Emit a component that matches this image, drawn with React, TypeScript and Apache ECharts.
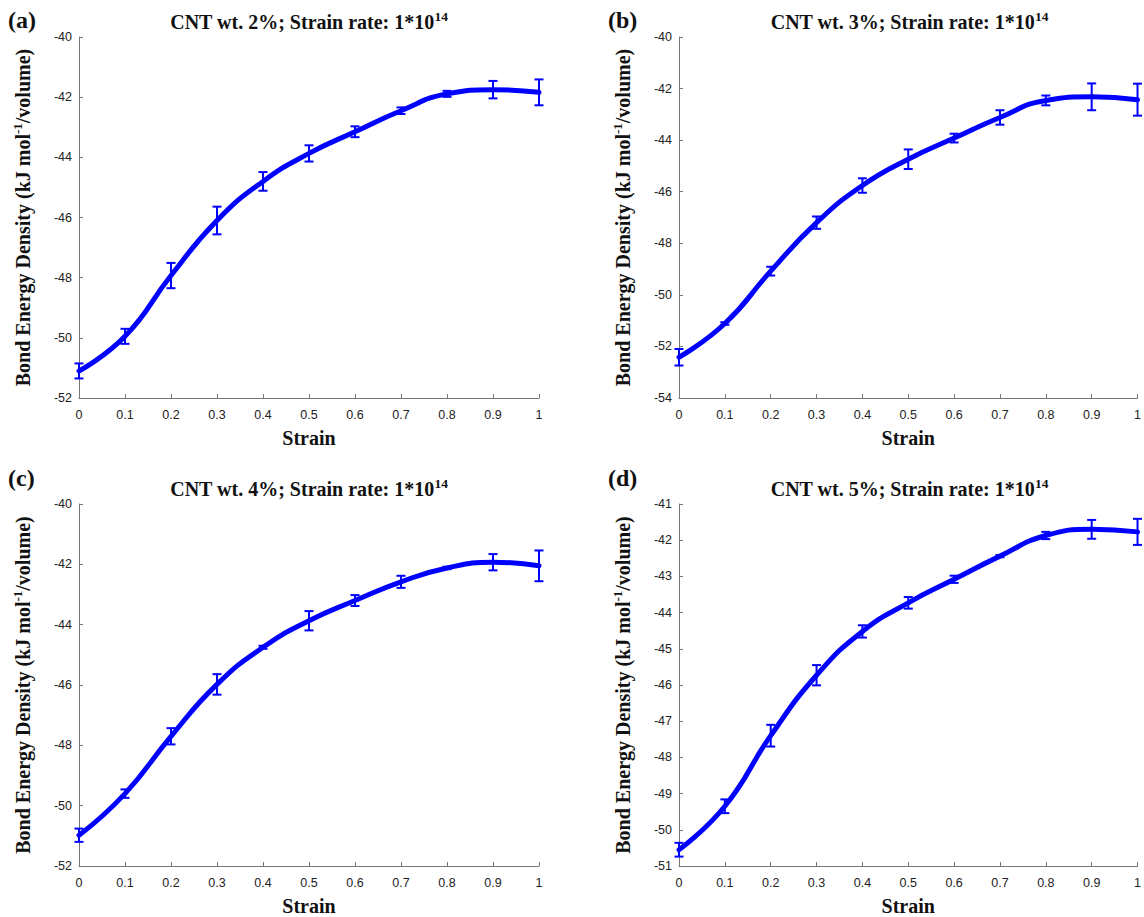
import React, { useEffect, useRef } from "react";
import * as echarts from "echarts";

// Strain levels shared by all four panels
const strain = [0, 0.1, 0.2, 0.3, 0.4, 0.5, 0.6, 0.7, 0.8, 0.9, 1];

// Mean bond energy density and error (kJ mol^-1/volume) per CNT weight fraction
const wt2Mean = [-51.1, -49.95, -47.93, -46.1, -44.8, -43.87, -43.15, -42.45, -41.89, -41.75, -41.84];
const wt2Err = [0.25, 0.25, 0.42, 0.46, 0.31, 0.27, 0.18, 0.11, 0.1, 0.29, 0.43];

const wt3Mean = [-52.42, -51.11, -49.08, -47.2, -45.76, -44.74, -43.92, -43.12, -42.46, -42.32, -42.43];
const wt3Err = [0.32, 0.05, 0.17, 0.24, 0.28, 0.38, 0.17, 0.28, 0.19, 0.52, 0.62];

const wt4Mean = [-50.98, -49.6, -47.7, -45.98, -44.75, -43.87, -43.2, -42.58, -42.12, -41.93, -42.05];
const wt4Err = [0.22, 0.14, 0.27, 0.34, 0.05, 0.32, 0.18, 0.2, 0.04, 0.27, 0.51];

const wt5Mean = [-50.55, -49.35, -47.4, -45.73, -44.52, -43.73, -43.08, -42.44, -41.87, -41.7, -41.77];
const wt5Err = [0.19, 0.19, 0.3, 0.28, 0.17, 0.16, 0.1, 0.03, 0.1, 0.26, 0.36];

const panelLetters = ["(a)", "(b)", "(c)", "(d)"];
const cntWeights = ["2%", "3%", "4%", "5%"];
const yMins = [-52, -54, -52, -51];
const yMaxs = [-40, -40, -40, -41];
const yIntervals = [2, 2, 2, 1];

const panels = [
  { mean: wt2Mean, err: wt2Err },
  { mean: wt3Mean, err: wt3Err },
  { mean: wt4Mean, err: wt4Err },
  { mean: wt5Mean, err: wt5Err },
];

// layout of the four plot areas
const grids = [
  { left: 79, top: 37, width: 460, height: 361 },
  { left: 679, top: 37, width: 461, height: 361 },
  { left: 79, top: 504, width: 460, height: 362 },
  { left: 679, top: 504, width: 461, height: 362 },
];

const BLUE = "#0000ff";
const SERIF = "'Liberation Serif', 'Times New Roman', serif";
const SANS = "'Liberation Sans', Arial, sans-serif";

export default function App() {
  const ref = useRef<HTMLDivElement>(null);

  useEffect(() => {
    if (!ref.current) return;
    const chart = echarts.init(ref.current, null, { renderer: "svg" });

    const xAxes: any[] = [];
    const yAxes: any[] = [];
    const series: any[] = [];
    const graphics: any[] = [];

    panels.forEach((p, i) => {
      const g = grids[i];
      xAxes.push({
        type: "value",
        gridIndex: i,
        min: 0,
        max: 1,
        interval: 0.1,
        name: "Strain",
        nameLocation: "middle",
        nameGap: 30,
        nameTextStyle: { fontFamily: SERIF, fontWeight: "bold", fontSize: 20, color: "#111" },
        axisLine: { lineStyle: { color: "#777", width: 1 } },
        axisTick: { inside: true, length: 4, lineStyle: { color: "#777" } },
        axisLabel: { fontFamily: SANS, fontSize: 12.5, color: "#222", margin: 10 },
        splitLine: { show: false },
      });
      yAxes.push({
        type: "value",
        gridIndex: i,
        min: yMins[i],
        max: yMaxs[i],
        interval: yIntervals[i],
        name: "{n|Bond Energy Density (kJ mol}{s|-1}{n|/volume)}",
        nameLocation: "middle",
        nameGap: 44,
        nameTextStyle: {
          fontFamily: SERIF,
          fontWeight: "bold",
          fontSize: 20,
          color: "#111",
          rich: {
            n: { fontFamily: SERIF, fontWeight: "bold", fontSize: 20, color: "#111" },
            s: { fontFamily: SERIF, fontWeight: "bold", fontSize: 13, color: "#111", padding: [0, 0, 11, 0] },
          },
        },
        axisLine: { show: true, lineStyle: { color: "#777", width: 1 } },
        axisTick: { show: true, inside: true, length: 4, lineStyle: { color: "#777" } },
        axisLabel: { fontFamily: SANS, fontSize: 12.5, color: "#222", margin: 7 },
        splitLine: { show: false },
      });

      const lineData = strain.map((x, k) => [x, p.mean[k]]);
      series.push({
        type: "line",
        xAxisIndex: i,
        yAxisIndex: i,
        data: lineData,
        smooth: 0.5,
        showSymbol: false,
        lineStyle: { color: BLUE, width: 5, cap: "round", join: "round" },
        z: 3,
      });

      const errData = strain.map((x, k) => [x, p.mean[k] - p.err[k], p.mean[k] + p.err[k]]);
      series.push({
        type: "custom",
        xAxisIndex: i,
        yAxisIndex: i,
        data: errData,
        z: 4,
        renderItem: (params: any, api: any) => {
          const x = api.value(0);
          const lo = api.coord([x, api.value(1)]);
          const hi = api.coord([x, api.value(2)]);
          const hw = 4.5;
          const style = { stroke: BLUE, lineWidth: 2 };
          return {
            type: "group",
            children: [
              { type: "line", shape: { x1: lo[0], y1: lo[1], x2: hi[0], y2: hi[1] }, style },
              { type: "line", shape: { x1: lo[0] - hw, y1: lo[1], x2: lo[0] + hw, y2: lo[1] }, style },
              { type: "line", shape: { x1: hi[0] - hw, y1: hi[1], x2: hi[0] + hw, y2: hi[1] }, style },
            ],
          };
        },
      });

      // panel title
      graphics.push({
        type: "text",
        x: g.left + g.width / 2,
        y: g.top - 15,
        style: {
          text: `{t|CNT wt. ${cntWeights[i]}; Strain rate: 1*10}{s|14}`,
          align: "center",
          verticalAlign: "middle",
          rich: {
            t: { fontFamily: SERIF, fontWeight: "bold", fontSize: 20, fill: "#111" },
            s: { fontFamily: SERIF, fontWeight: "bold", fontSize: 13.5, fill: "#111", padding: [0, 0, 12, 0] },
          },
        },
      });
      // panel letter
      graphics.push({
        type: "text",
        x: g.left - 71,
        y: i < 2 ? 20 : 478,
        style: {
          text: panelLetters[i],
          fontFamily: SERIF,
          fontWeight: "bold",
          fontSize: 24,
          fill: "#111",
          align: "left",
          verticalAlign: "middle",
        },
      });
    });

    chart.setOption({
      animation: false,
      backgroundColor: "#ffffff",
      grid: grids.map((g) => ({ ...g, containLabel: false })),
      xAxis: xAxes,
      yAxis: yAxes,
      series,
      graphic: graphics,
    });

    return () => chart.dispose();
  }, []);

  return (
    <div
      ref={ref}
      style={{ position: "fixed", left: 0, top: 0, width: 1144, height: 917, background: "#fff" }}
    />
  );
}
